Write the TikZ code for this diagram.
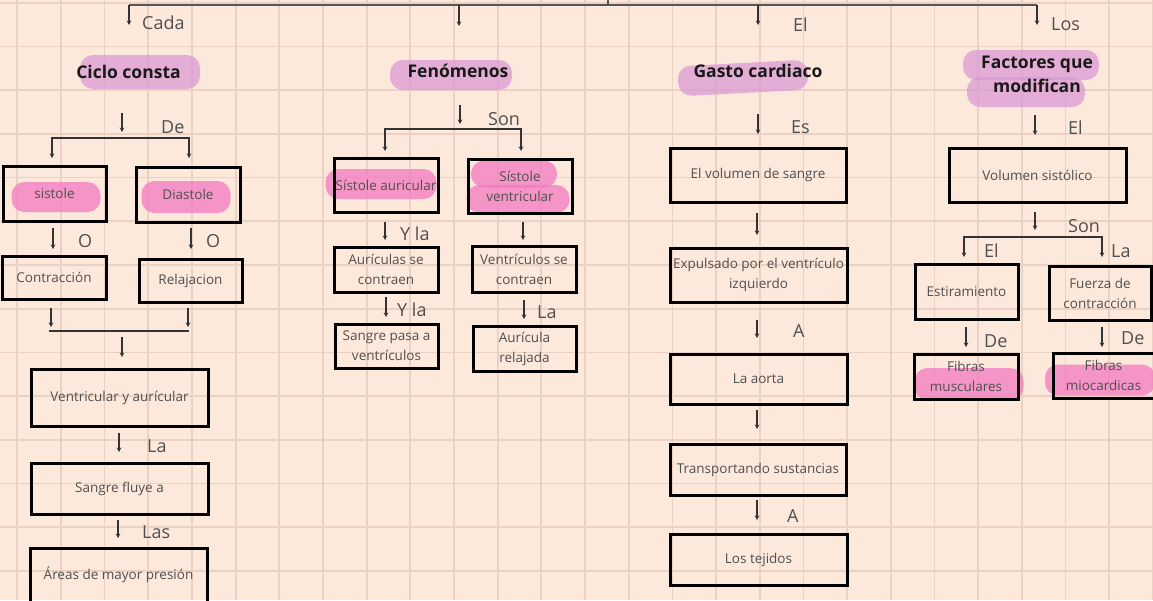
\documentclass[tikz,border=0pt]{standalone}
\usepackage{fontspec}
\setmainfont{Open Sans}
\usetikzlibrary{arrows.meta}
\definecolor{bgc}{HTML}{FDE8DC}
\definecolor{gridc}{HTML}{EBD1C3}
\definecolor{linec}{HTML}{333333}
\definecolor{topc}{HTML}{5A5555}
\definecolor{txtc}{HTML}{505050}
\definecolor{lblc}{HTML}{505050}
\definecolor{purp}{RGB}{217,151,213}
\definecolor{pinkh}{RGB}{243,118,191}
\pgfdeclarelayer{bg}
\pgfdeclarelayer{hl}
\pgfsetlayers{bg,hl,main}
\newcommand\arrw[4]{\coordinate (#1s) at (#2,#3); \coordinate (#1e) at (#2,#4); \draw[arr] (#1s) -- (#1e);}
\begin{document}
\begin{tikzpicture}[x=1pt,y=-1pt,
  box/.style={draw=black, line width=3pt, inner sep=0pt, align=center, text=txtc, font=\fontsize{13.5}{20}\selectfont},
  head/.style={inner sep=0pt, text=black!90, font=\fontsize{17.5}{20}\selectfont\bfseries, anchor=base},
  lbl/.style={inner sep=0pt, text=lblc, font=\fontsize{18}{20}\selectfont, anchor=base west},
  hlp/.style={fill=purp, fill opacity=0.72, rounded corners=13pt, inner sep=0pt},
  hlk/.style={fill=pinkh, fill opacity=0.72, rounded corners=13pt, inner sep=0pt},
  arr/.style={line width=1.4pt, draw=linec, -{Stealth[length=4.5pt,width=4.5pt]}},
  arrboth/.style={line width=1.4pt, draw=linec, {Stealth[length=4.5pt,width=4.5pt]}-{Stealth[length=4.5pt,width=4.5pt]}},
  conn/.style={line width=1.4pt, draw=linec},
  gridline/.style={line width=1.7pt, draw=gridc}]
\useasboundingbox (0,0) rectangle (1153,600);
\clip (0,0) rectangle (1153,600);
\begin{pgfonlayer}{bg}
\fill[bgc] (0,0) rectangle (1153,600);
\foreach \i in {0,...,26} \draw[gridline] ({17.3+43.67*\i},0) -- ++(0,600);
\foreach \j in {0,...,13} \draw[gridline] (0,{2.7+43.72*\j}) -- ++(1153,0);
\end{pgfonlayer}

% highlights
\begin{pgfonlayer}{hl}
\node[hlp, minimum width=120, minimum height=34] (hl1) at (140,72) {};
\node[hlp, minimum width=122, minimum height=30] (hl2) at (451,75) {};
\node[hlp, minimum width=130, minimum height=30, rotate=3] (hl3) at (743,78) {};
\node[hlp, minimum width=136, minimum height=30] (hl4) at (1031,65) {};
\node[hlp, minimum width=118, minimum height=30] (hl5) at (1026,92) {};
\node[hlk, minimum width=89, minimum height=30] (hl6) at (56,197) {};
\node[hlk, minimum width=89, minimum height=32] (hl7) at (186,197) {};
\node[hlk, minimum width=111, minimum height=30] (hl8) at (381,184) {};
\node[hlk, minimum width=86, minimum height=27] (hl9) at (514,174) {};
\node[hlk, minimum width=103, minimum height=28] (hl10) at (518,199) {};
\node[hlk, minimum width=109, minimum height=32] (hl11) at (969,384) {};
\node[hlk, minimum width=110, minimum height=31] (hl12) at (1100,380) {};
\end{pgfonlayer}

% top connector
\coordinate (tL) at (129,5);
\coordinate (tR) at (1037,5);
\coordinate (tS) at (608,0);
\coordinate (tS2) at (608,5);
\coordinate (tF) at (459,5);
\coordinate (tG) at (758,5);
\draw[line width=2pt, draw=topc] (tL) -- (tR);
\draw[line width=2pt, draw=topc] (tS) -- (tS2);
\coordinate (aT1e) at (129,25); \draw[arr] (tL) -- (aT1e);
\coordinate (aT2e) at (459,26); \draw[arr] (tF) -- (aT2e);
\coordinate (aT3e) at (758,25); \draw[arr] (tG) -- (aT3e);
\coordinate (aT4e) at (1037,25); \draw[arr] (tR) -- (aT4e);

% headings
\node[head] (hCiclo) at (128.5,78) {Ciclo consta};
\node[head] (hFen) at (458,77) {Fenómenos};
\node[head] (hGasto) at (758,77) {Gasto cardiaco};
\node[head] (hFac1) at (1037,68) {Factores que};
\node[head] (hFac2) at (1037,92) {modifican};

% labels
\node[lbl] (lCada) at (142,29) {Cada};
\node[lbl] (lEl1) at (793,31) {El};
\node[lbl] (lLos) at (1051,30) {Los};
\node[lbl] (lDe1) at (161,133) {De};
\node[lbl] (lSon1) at (488,125) {Son};
\node[lbl] (lEs) at (791,133) {Es};
\node[lbl] (lEl2) at (1068,134) {El};
\node[lbl] (lO1) at (78,247) {O};
\node[lbl] (lO2) at (206,247) {O};
\node[lbl] (lLa1) at (147,452) {La};
\node[lbl] (lLas) at (142,538) {Las};
\node[lbl] (lYla1) at (400,240) {Y la};
\node[lbl] (lYla2) at (397,316) {Y la};
\node[lbl] (lLa2) at (537,318) {La};
\node[lbl] (lSon2) at (1068,232) {Son};
\node[lbl] (lEl3) at (984,257) {El};
\node[lbl] (lLa3) at (1111,257) {La};
\node[lbl] (lDe2) at (984,347) {De};
\node[lbl] (lDe3) at (1121,344) {De};
\node[lbl] (lA1) at (793,337) {A};
\node[lbl] (lA2) at (787,522) {A};

% boxes column 1
\node[box, minimum width=103, minimum height=55] (sis) at (54.5,193.5) {sistole};
\node[box, minimum width=104, minimum height=55] (dia) at (188,194.5) {Diastole};
\node[box, minimum width=104, minimum height=43] (con) at (54,277.5) {Contracción};
\node[box, minimum width=103, minimum height=43] (rel) at (190.5,280.5) {Relajacion};
\node[box, minimum width=177, minimum height=57] (vya) at (119.5,397.5) {Ventricular y aurícular};
\node[box, minimum width=177, minimum height=51] (sfa) at (119.5,488.5) {Sangre fluye a};
\node[box, minimum width=177, minimum height=54] (amp) at (118.5,575) {Áreas de mayor presión};
% column 2
\node[box, minimum width=104, minimum height=54] (sau) at (386,185) {Sístole auricular};
\node[box, minimum width=104, minimum height=54] (sve) at (520,186) {Sístole\\ventricular};
\node[box, minimum width=104, minimum height=45] (auc) at (386,269.5) {Aurículas se\\contraen};
\node[box, minimum width=104, minimum height=46] (vec) at (524,269) {Ventrículos se\\contraen};
\node[box, minimum width=103, minimum height=44] (spv) at (386.5,346) {Sangre pasa a\\ventrículos};
\node[box, minimum width=103, minimum height=45] (arl) at (524.5,348.5) {Aurícula\\relajada};
% column 3
\node[box, minimum width=176, minimum height=54] (vol) at (758,175) {El volumen de sangre};
\node[box, minimum width=177, minimum height=54] (exp) at (758.5,275) {Expulsado por el ventrículo\\izquierdo};
\node[box, minimum width=177, minimum height=50] (aor) at (758.5,379) {La aorta};
\node[box, minimum width=176, minimum height=51] (tra) at (758,469.5) {Transportando sustancias};
\node[box, minimum width=177, minimum height=51] (tej) at (758.5,559.5) {Los tejidos};
% column 4
\node[box, minimum width=177, minimum height=54] (vsi) at (1037.5,175) {Volumen sistólico};
\node[box, minimum width=103, minimum height=55] (est) at (966.5,292) {Estiramiento};
\node[box, minimum width=102, minimum height=54] (fue) at (1100,293) {Fuerza de\\contracción};
\node[box, minimum width=104, minimum height=45] (fmu) at (966,376.5) {Fibras\\musculares};
\node[box, minimum width=101, minimum height=45] (fmi) at (1103.5,375.5) {Fibras\\miocardicas};

% arrows column 1
\arrw{aC}{122}{113}{132}
\coordinate (cbL) at (52,158); \coordinate (cbLc) at (52,138);
\coordinate (cbRc) at (189,138); \coordinate (cbR) at (189,158);
\draw[arrboth] (cbL) -- (cbLc) -- (cbRc) -- (cbR);
\arrw{aO1}{53}{228}{249}
\arrw{aO2}{191}{228}{249}
\arrw{aM1}{51}{308}{327}
\arrw{aM2}{188}{308}{327}
\coordinate (mL) at (49,331); \coordinate (mR) at (189,331);
\draw[conn] (mL) -- (mR);
\arrw{aM3}{122}{337}{357}
\arrw{aLa}{119}{433}{452}
\arrw{aLas}{118}{520}{538}
% column 2
\arrw{aF}{460}{105}{124}
\coordinate (fbL) at (385,151); \coordinate (fbLc) at (385,129);
\coordinate (fbRc) at (521,129); \coordinate (fbR) at (521,151);
\draw[arrboth] (fbL) -- (fbLc) -- (fbRc) -- (fbR);
\arrw{aYa}{385}{222}{240}
\arrw{aSV}{523}{222}{240}
\arrw{aYb}{386}{297}{317}
\arrw{aLb}{524}{300}{319}
% column 3
\arrw{aG}{758}{114}{134}
\arrw{aGb}{757}{213}{235}
\arrw{aAa}{757}{320}{338}
\arrw{aGc}{757}{410}{429}
\arrw{aAb}{757}{500}{520}
% column 4
\arrw{aFa}{1035}{115}{135}
\arrw{aSo}{1035}{212}{230}
\coordinate (kbL) at (964,257); \coordinate (kbLc) at (964,237);
\coordinate (kbRc) at (1102,237); \coordinate (kbR) at (1102,257);
\draw[arrboth] (kbL) -- (kbLc) -- (kbRc) -- (kbR);
\arrw{aDa}{966}{327}{347}
\arrw{aDb}{1102}{327}{347}
\end{tikzpicture}
\end{document}
